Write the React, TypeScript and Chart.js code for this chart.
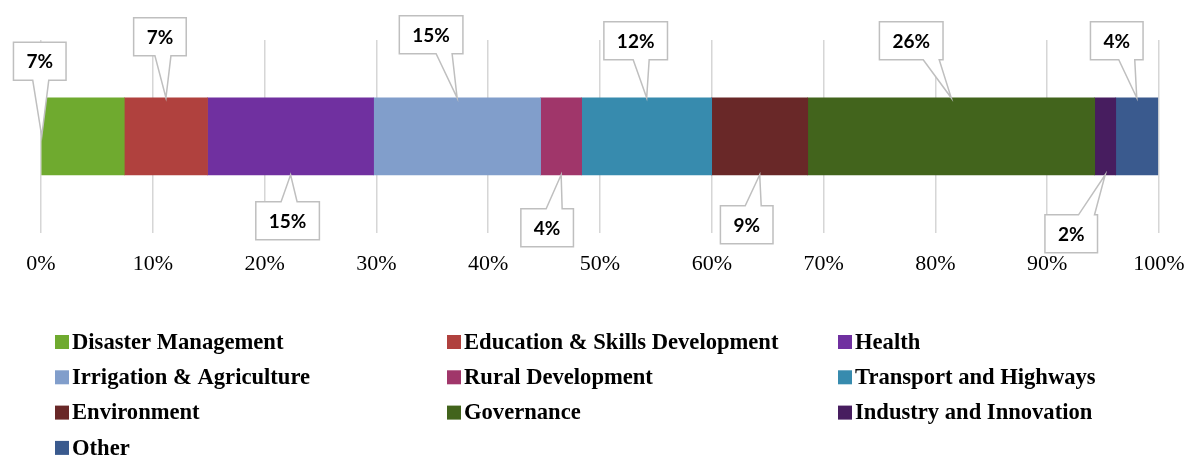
import React, { useEffect, useRef } from "react";
import { Chart, registerables } from "chart.js";

Chart.register(...registerables);

const categories = [
  "Disaster Management",
  "Education & Skills Development",
  "Health",
  "Irrigation & Agriculture",
  "Rural Development",
  "Transport and Highways",
  "Environment",
  "Governance",
  "Industry and Innovation",
  "Other",
];
const shares = [7.45, 7.45, 14.85, 14.94, 3.67, 11.63, 8.59, 25.67, 1.88, 3.76];
const xTickValues = [0, 10, 20, 30, 40, 50, 60, 70, 80, 90, 100];

const colors = [
  "#6FAA2F",
  "#B0413E",
  "#7030A0",
  "#819ECB",
  "#A0366A",
  "#378BAE",
  "#692828",
  "#42641C",
  "#471D5F",
  "#3A5A8E",
];

// callout placement (annotation layout, not data)
const calloutAnchors = ["base", "top", "bottom", "top", "bottom", "top", "bottom", "top", "bottom", "top"];
const calloutOffsets: [number, number][] = [
  [-2, -75],
  [-6, -61],
  [-3, 46],
  [-26, -63],
  [-14, 53],
  [-11, -57],
  [-13, 50],
  [-40, -57],
  [-34, 59],
  [-20, -57],
];

const legendCols = [55, 447, 838];
const legendRowStart = 342;
const legendRowGap = 35.3;

const calloutPlugin = {
  id: "callouts",
  afterDatasetsDraw(chart: any) {
    const ctx = chart.ctx as CanvasRenderingContext2D;
    ctx.save();
    ctx.font = "bold 19px Lato";
    chart.data.datasets.forEach((ds: any, i: number) => {
      const el = chart.getDatasetMeta(i).data[0] as any;
      if (!el) return;
      const left = Math.min(el.x, el.base);
      const right = Math.max(el.x, el.base);
      const anchor = calloutAnchors[i];
      let tx: number, ty: number;
      if (anchor === "base") {
        tx = left;
        ty = el.y;
      } else if (anchor === "top") {
        tx = (left + right) / 2;
        ty = el.y - el.height / 2;
      } else {
        tx = (left + right) / 2;
        ty = el.y + el.height / 2;
      }
      const label = Math.round(ds.data[0]) + "%";
      const tw = ctx.measureText(label).width;
      const w = tw + 26;
      const h = 38;
      const cx = tx + calloutOffsets[i][0];
      const cy = ty + calloutOffsets[i][1];
      const L = cx - w / 2;
      const R = cx + w / 2;
      const T = cy - h / 2;
      const B = cy + h / 2;
      const hw = 8;
      let bx = cx + 0.5 * (tx - cx);
      bx = Math.max(L + hw + 3, Math.min(R - hw - 3, bx));
      ctx.beginPath();
      if (cy < ty) {
        ctx.moveTo(L, T);
        ctx.lineTo(R, T);
        ctx.lineTo(R, B);
        ctx.lineTo(bx + hw, B);
        ctx.lineTo(tx, ty);
        ctx.lineTo(bx - hw, B);
        ctx.lineTo(L, B);
      } else {
        ctx.moveTo(L, T);
        ctx.lineTo(bx - hw, T);
        ctx.lineTo(tx, ty);
        ctx.lineTo(bx + hw, T);
        ctx.lineTo(R, T);
        ctx.lineTo(R, B);
        ctx.lineTo(L, B);
      }
      ctx.closePath();
      ctx.fillStyle = "#ffffff";
      ctx.fill();
      ctx.lineWidth = 1.5;
      ctx.strokeStyle = "#bfbfbf";
      ctx.stroke();
      ctx.fillStyle = "#000000";
      ctx.textAlign = "center";
      ctx.textBaseline = "middle";
      ctx.fillText(label, cx, cy + 1);
    });
    ctx.restore();
  },
};

const legendPlugin = {
  id: "gridLegend",
  afterDraw(chart: any) {
    const ctx = chart.ctx as CanvasRenderingContext2D;
    ctx.save();
    ctx.font = "bold 22.6px 'Liberation Serif'";
    ctx.textBaseline = "middle";
    ctx.textAlign = "left";
    chart.data.datasets.forEach((ds: any, i: number) => {
      const col = i % 3;
      const row = Math.floor(i / 3);
      const x = legendCols[col];
      const y = legendRowStart + row * legendRowGap;
      ctx.fillStyle = ds.backgroundColor;
      ctx.fillRect(x, y - 7, 14, 14);
      ctx.fillStyle = "#000000";
      ctx.fillText(ds.label, x + 17, y + 1);
    });
    ctx.restore();
  },
};

export default function App() {
  const ref = useRef<HTMLCanvasElement | null>(null);
  useEffect(() => {
    document.body.style.margin = "0";
    document.body.style.overflow = "hidden";
    if (!ref.current) return;
    const chart = new Chart(ref.current, {
      type: "bar",
      data: {
        labels: [""],
        datasets: categories.map((c, i) => ({
          label: c,
          data: [shares[i]],
          backgroundColor: colors[i],
          borderWidth: 0,
          barThickness: 77,
        })),
      },
      options: {
        indexAxis: "y",
        animation: false,
        responsive: false,
        devicePixelRatio: 1,
        layout: { padding: { left: 41, right: 28, top: 40, bottom: 177 } },
        plugins: {
          legend: { display: false },
          tooltip: { enabled: false },
        },
        scales: {
          x: {
            stacked: true,
            min: 0,
            max: 100,
            afterBuildTicks: (axis: any) => {
              axis.ticks = xTickValues.map((v) => ({ value: v }));
            },
            ticks: {
              callback: (v: any) => v + "%",
              font: { family: "'Liberation Serif'", size: 22 },
              color: "#000000",
              padding: 2,
              maxRotation: 0,
              autoSkip: false,
            },
            grid: {
              color: "#d6d6d6",
              lineWidth: 1.5,
              drawTicks: true,
              tickLength: 16,
              tickColor: "rgba(0,0,0,0)",
            },
            border: { display: false },
          },
          y: {
            stacked: true,
            display: false,
          },
        },
      },
      plugins: [calloutPlugin, legendPlugin],
    } as any);
    return () => chart.destroy();
  }, []);
  return (
    <div style={{ width: 1187, height: 456, overflow: "hidden" }}>
      <canvas ref={ref} width={1187} height={456} style={{ display: "block" }} />
    </div>
  );
}
